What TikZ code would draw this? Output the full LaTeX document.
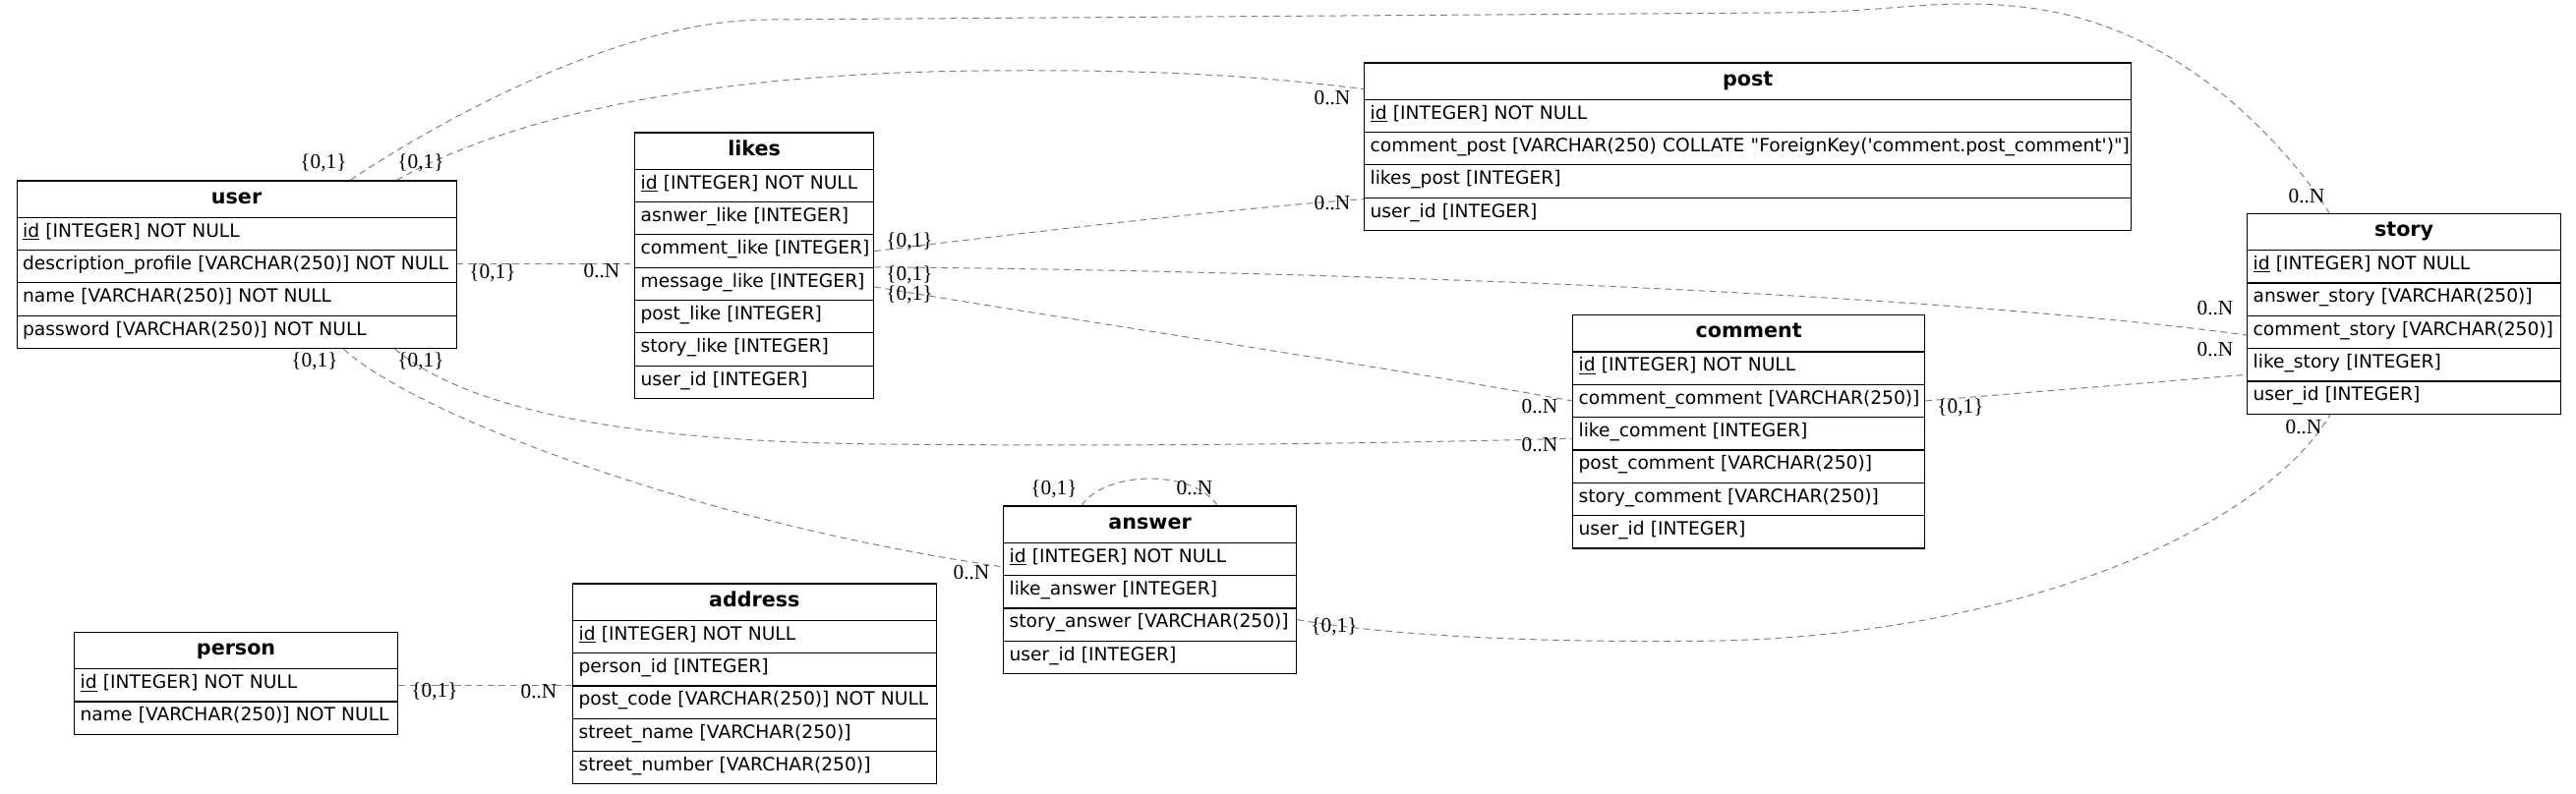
\documentclass[tikz,border=0pt]{standalone}
\usepackage{fontspec}
\newfontfamily\erfont{DejaVu Sans}
\newfontfamily\lblfont{Liberation Serif}
\usetikzlibrary{calc}
\definecolor{edgec}{RGB}{128,128,128}
\tikzset{
  hdr/.style={draw, line width=0.9pt, anchor=north west, minimum height=28pt,
    inner xsep=4.5pt, inner ysep=0pt, text height=11pt, text depth=4pt, align=center,
    font=\erfont\bfseries\fontsize{15.5}{17}\selectfont},
  erow/.style={draw, line width=0.9pt, anchor=north west, minimum height=25pt,
    inner xsep=4.5pt, inner ysep=0pt, text height=9pt, text depth=4pt, align=left,
    font=\erfont\fontsize{14}{16}\selectfont},
  rel/.style={draw=edgec, line width=0.75pt, dash pattern=on 5pt off 3.5pt},
  lbl/.style={inner sep=0pt, font=\lblfont\fontsize{16}{18}\selectfont}
}
\newcommand\ertable[6]{%
  \pgfmathsetmacro\ertw{#4*0.75-9}%
  \node[hdr, text width=\ertw pt] (#1) at (#2,#3) {#5};%
  \foreach \r [count=\i] in {#6}{%
    \pgfmathsetmacro\eryy{#3+37.33+(\i-1)*33.33}%
    \node[erow, text width=\ertw pt] (#1-\i) at (#2,\eryy) {\mbox{\r}};%
  }%
}
\begin{document}
\begin{tikzpicture}[x=0.75pt,y=-0.75pt]
\fill[white] (0,0) rectangle (2620,807);
\useasboundingbox (0,0) rectangle (2620,807);

\ertable{user}{16.5}{183.3}{447}{user}{{\underline{id} [INTEGER] NOT NULL},{description\_profile [VARCHAR(250)] NOT NULL},{name [VARCHAR(250)] NOT NULL},{password [VARCHAR(250)] NOT NULL}}
\ertable{likes}{645}{134.3}{243}{likes}{{\underline{id} [INTEGER] NOT NULL},{asnwer\_like [INTEGER]},{comment\_like [INTEGER]},{message\_like [INTEGER]},{post\_like [INTEGER]},{story\_like [INTEGER]},{user\_id [INTEGER]}}
\ertable{post}{1387}{63.3}{780}{post}{{\underline{id} [INTEGER] NOT NULL},{comment\_post [VARCHAR(250) COLLATE "ForeignKey('comment.post\_comment')"]},{likes\_post [INTEGER]},{user\_id [INTEGER]}}
\ertable{story}{2285}{216.7}{319}{story}{{\underline{id} [INTEGER] NOT NULL},{answer\_story [VARCHAR(250)]},{comment\_story [VARCHAR(250)]},{like\_story [INTEGER]},{user\_id [INTEGER]}}
\ertable{comment}{1599}{320}{358}{comment}{{\underline{id} [INTEGER] NOT NULL},{comment\_comment [VARCHAR(250)]},{like\_comment [INTEGER]},{post\_comment [VARCHAR(250)]},{story\_comment [VARCHAR(250)]},{user\_id [INTEGER]}}
\ertable{answer}{1020}{514.3}{298}{answer}{{\underline{id} [INTEGER] NOT NULL},{like\_answer [INTEGER]},{story\_answer [VARCHAR(250)]},{user\_id [INTEGER]}}
\ertable{address}{582}{593.3}{369.5}{address}{{\underline{id} [INTEGER] NOT NULL},{person\_id [INTEGER]},{post\_code [VARCHAR(250)] NOT NULL},{street\_name [VARCHAR(250)]},{street\_number [VARCHAR(250)]}}
\ertable{person}{75}{642.7}{329}{person}{{\underline{id} [INTEGER] NOT NULL},{name [VARCHAR(250)] NOT NULL}}

% A: user -> story (top)
\draw[rel] ($(user.north west)+(340,0)$) .. controls (420,140) and (620,20) .. (780,20) -- (1805,13) .. controls (1900,13) and (1940,4) .. (2000,4) .. controls (2100,4) and (2170,30) .. (2240,80) .. controls (2290,116) and (2340,170) .. ($(story.north west)+(84,0)$);
% B: user -> post
\draw[rel] ($(user.north west)+(387,0)$) .. controls (480,140) and (650,75) .. (1000,72) .. controls (1200,70) and (1300,80) .. ($(post.west)+(0,8)$);
% C: user -> likes
\draw[rel] ($(user-2.east)+(0,-3)$) -- ($(user-2.east -| likes-3.west)+(0,-3)$);
% D: user -> answer
\draw[rel] ($(user-4.south west)+(333,0)$) .. controls (420,420) and (700,530) .. ($(answer-1.west)+(0,8)$);
% E: user -> comment
\draw[rel] ($(user-4.south west)+(385,0)$) .. controls (480,420) and (650,450) .. (900,452) .. controls (1200,455) and (1450,450) .. ($(comment-3.west)+(0,5)$);
% F: likes -> post
\draw[rel] (likes-3.east) .. controls (1000,242) and (1250,212) .. ($(post-4.north west)+(0,2)$);
% G: likes -> story
\draw[rel] ($(likes-3.south east)+(0,-1)$) .. controls (1200,274) and (1900,290) .. ($(story-3.west)+(0,3)$);
% H: likes -> comment
\draw[rel] ($(likes-4.east)+(0,3)$) .. controls (1100,327) and (1400,372) .. (comment-2.west);
% I: comment -> story
\draw[rel] (comment-2.east) -- ($(story-4.west)+(0,10)$);
% J: answer -> story (bottom)
\draw[rel] ($(answer-3.east)+(0,-5)$) .. controls (1400,645) and (1550,655) .. (1750,652) .. controls (2050,645) and (2300,540) .. ($(story-5.south west)+(85,0)$);
% K: answer self
\draw[rel] ($(answer.north west)+(80,0)$) .. controls (1125,478) and (1215,478) .. ($(answer.north west)+(218,0)$);
% L: person -> address
\draw[rel] (person-1.east) -- (person-1.east -| address-2.west);

% labels
\node[lbl] (lA1) at (329,166) {\{0,1\}};
\node[lbl] (lA2) at (2346,200) {0..N};
\node[lbl] (lB1) at (428,166) {\{0,1\}};
\node[lbl] (lB2) at (1355,100) {0..N};
\node[lbl] (lC1) at (501,278) {\{0,1\}};
\node[lbl] (lC2) at (612,276) {0..N};
\node[lbl] (lD1) at (320,368) {\{0,1\}};
\node[lbl] (lD2) at (988,583) {0..N};
\node[lbl] (lE1) at (428,368) {\{0,1\}};
\node[lbl] (lE2) at (1566,453) {0..N};
\node[lbl] (lF1) at (925,246) {\{0,1\}};
\node[lbl] (lF2) at (1355,207) {0..N};
\node[lbl] (lG1) at (925,280) {\{0,1\}};
\node[lbl] (lG2) at (2253,314) {0..N};
\node[lbl] (lH1) at (925,300) {\{0,1\}};
\node[lbl] (lH2) at (1566,414) {0..N};
\node[lbl] (lI1) at (1994,415) {\{0,1\}};
\node[lbl] (lI2) at (2253,356) {0..N};
\node[lbl] (lJ1) at (1357,638) {\{0,1\}};
\node[lbl] (lJ2) at (2343,435) {0..N};
\node[lbl] (lK1) at (1072,498) {\{0,1\}};
\node[lbl] (lK2) at (1215,497) {0..N};
\node[lbl] (lL1) at (442,704) {\{0,1\}};
\node[lbl] (lL2) at (548,704) {0..N};
\end{tikzpicture}
\end{document}
